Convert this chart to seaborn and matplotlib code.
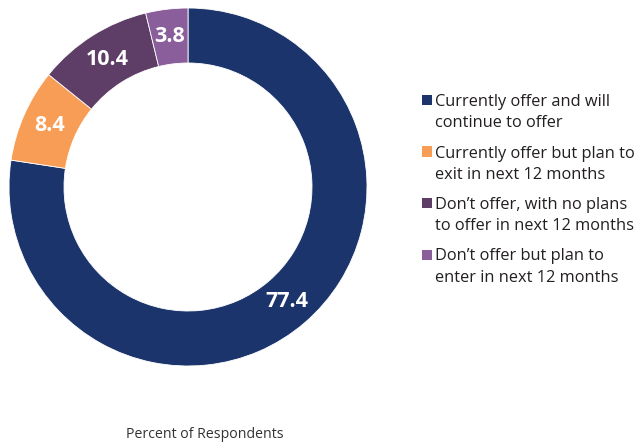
import matplotlib
matplotlib.use("Agg")
import matplotlib.pyplot as plt
from matplotlib.patches import Rectangle
import numpy as np
import seaborn as sns

categories = [
    "Currently offer and will\ncontinue to offer",
    "Currently offer but plan to\nexit in next 12 months",
    "Don\u2019t offer, with no plans\nto offer in next 12 months",
    "Don\u2019t offer but plan to\nenter in next 12 months",
]
values = [77.4, 8.4, 10.4, 3.8]
colors = ["#1C346C", "#F89D56", "#5E3D66", "#8A5E9B"]
axis_label = "Percent of Respondents"

sns.set_theme(style="white")
plt.rcParams["font.family"] = ["Open Sans", "DejaVu Sans"]

W, H = 639, 445
fig = plt.figure(figsize=(W / 100, H / 100), dpi=100)
palette = sns.color_palette(colors)

# donut centred at (188, 187) px, outer radius ~179 px
cx, cy, box = 188, 187, 360
ax = fig.add_axes([(cx - box / 2) / W, (H - cy - box / 2) / H, box / W, box / H])
outer = 179 / 180
ring = 55 / 180
wedges, _ = ax.pie(
    values,
    colors=palette,
    startangle=90,
    counterclock=False,
    radius=outer,
    wedgeprops=dict(width=ring, edgecolor="white", linewidth=0.6),
)
ax.set_xlim(-1, 1)
ax.set_ylim(-1, 1)
ax.set_aspect("equal")
ax.axis("off")

# value labels in the middle of each ring segment
r_mid = outer - ring / 2
for w, v in zip(wedges, values):
    ang = np.deg2rad((w.theta1 + w.theta2) / 2)
    ax.text(r_mid * np.cos(ang), r_mid * np.sin(ang), f"{v:.1f}",
            ha="center", va="center", color="white",
            fontsize=15.5, fontweight="bold")

# legend: square swatch next to the first line of each two-line label
def fx(px):
    return px / W


def fy(py):
    return 1 - py / H


first_base, entry_step, line_step = 106, 51.5, 21
for i, (label, col) in enumerate(zip(categories, palette)):
    base = first_base + entry_step * i
    fig.patches.append(Rectangle((fx(422), fy(base - 1)), 10 / W, 10 / H,
                                 transform=fig.transFigure, facecolor=col,
                                 edgecolor="none"))
    for j, line in enumerate(label.split("\n")):
        fig.text(fx(435), fy(base + j * line_step), line, ha="left",
                 va="baseline", fontsize=11.8, color="#231F20")

fig.text(fx(205), fy(435), axis_label, ha="center", va="center",
         fontsize=10.2, color="#333333")

fig.savefig("out.png", dpi=100)
